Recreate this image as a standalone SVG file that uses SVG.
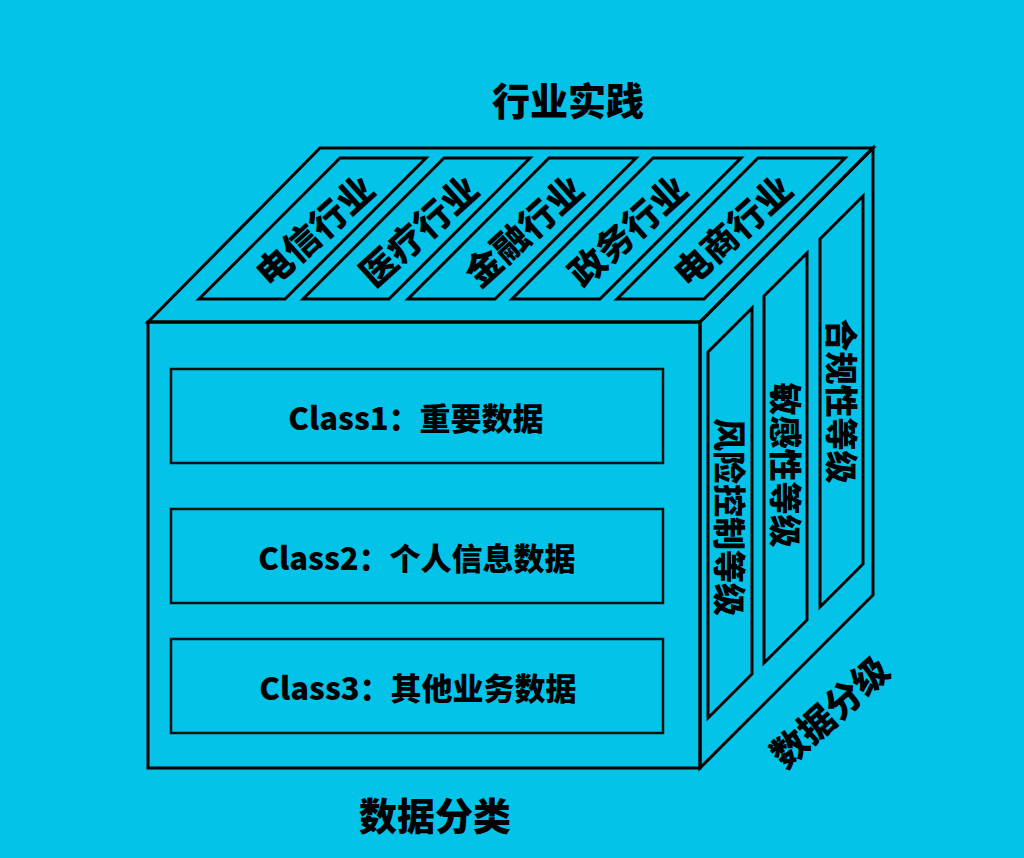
<svg xmlns="http://www.w3.org/2000/svg" width="1024" height="858" viewBox="0 0 1024 858">
  <style>
    .edge { fill: none; stroke: #000; stroke-width: 3; stroke-linejoin: miter; }
    .box { fill: none; stroke: #111; stroke-width: 2.5; }
    .t { font-family: "Noto Sans CJK SC", "Noto Sans", sans-serif; font-weight: 900; fill: #000; text-anchor: middle; dominant-baseline: central; }
    .big { font-size: 38px; }
    .strip { font-size: 36px; }
    .side { font-size: 33px; }
    .cls { font-size: 31px; }
  </style>
  <rect x="0" y="0" width="1024" height="858" fill="#03C4E8"/>

  <g id="cube">
    <polygon class="edge" points="148,322 320,148 873,148 700,322"/>
    <rect class="edge" x="148" y="322" width="552" height="446"/>
    <polygon class="edge" points="700,322 873,148 873,595 700,768"/>
  </g>

  <g id="top-strips">
    <g id="strip-telecom">
      <polygon class="edge" points="340,158 426,158 285,299 199,299"/>
      <text class="t strip" transform="translate(313,229) rotate(-42)">电信行业</text>
    </g>
    <g id="strip-medical">
      <polygon class="edge" points="444,158 530,158 389,299 303,299"/>
      <text class="t strip" transform="translate(417,229) rotate(-42)">医疗行业</text>
    </g>
    <g id="strip-finance">
      <polygon class="edge" points="549,158 636,158 495,299 408,299"/>
      <text class="t strip" transform="translate(522,229) rotate(-42)">金融行业</text>
    </g>
    <g id="strip-gov">
      <polygon class="edge" points="653,158 741,158 600,299 512,299"/>
      <text class="t strip" transform="translate(626,229) rotate(-42)">政务行业</text>
    </g>
    <g id="strip-ecommerce">
      <polygon class="edge" points="758,158 845,158 704,299 617,299"/>
      <text class="t strip" transform="translate(731,229) rotate(-42)">电商行业</text>
    </g>
  </g>

  <g id="class-boxes">
    <g id="class1">
      <rect class="box" x="171" y="369" width="492" height="94"/>
      <text class="t cls" x="416" y="416">Class1：重要数据</text>
    </g>
    <g id="class2">
      <rect class="box" x="171" y="509" width="492" height="94"/>
      <text class="t cls" x="417" y="556">Class2：个人信息数据</text>
    </g>
    <g id="class3">
      <rect class="box" x="171" y="639" width="492" height="94"/>
      <text class="t cls" x="418" y="686">Class3：其他业务数据</text>
    </g>
  </g>

  <g id="side-strips">
    <g id="strip-risk">
      <polygon class="edge" points="708,352 752,308 752,674 708,718"/>
      <text class="t side" transform="translate(731,517) rotate(90)">风险控制等级</text>
    </g>
    <g id="strip-sensitive">
      <polygon class="edge" points="764,296 807,253 807,620 764,663"/>
      <text class="t side" transform="translate(787,465) rotate(90)">敏感性等级</text>
    </g>
    <g id="strip-compliance">
      <polygon class="edge" points="820,239 863,196 863,564 820,607"/>
      <text class="t side" transform="translate(843,401) rotate(90)">合规性等级</text>
    </g>
  </g>

  <g id="labels">
    <text id="label-practice" class="t big" x="568" y="98">行业实践</text>
    <text id="label-classify" class="t big" x="435" y="813">数据分类</text>
    <text id="label-grade" class="t strip" transform="translate(828,710) rotate(-42)">数据分级</text>
  </g>
</svg>
